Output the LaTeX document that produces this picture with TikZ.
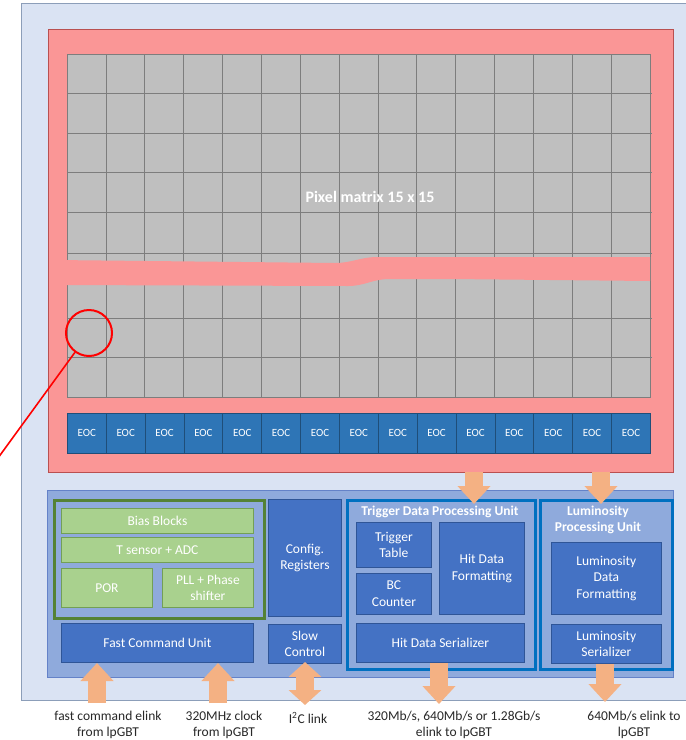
\documentclass[tikz,border=0pt]{standalone}
\usepackage{fontspec}
\setmainfont{Carlito}
\usetikzlibrary{arrows.meta}
\definecolor{bgblue}{RGB}{218,227,243}
\definecolor{bgedge}{RGB}{140,158,185}
\definecolor{redfill}{RGB}{250,150,150}
\definecolor{rededge}{RGB}{185,80,80}
\definecolor{cellgray}{RGB}{191,191,191}
\definecolor{cellline}{RGB}{125,125,125}
\definecolor{eocblue}{RGB}{46,117,182}
\definecolor{eocedge}{RGB}{31,78,121}
\definecolor{panelblue}{RGB}{143,170,220}
\definecolor{paneledge}{RGB}{100,130,200}
\definecolor{boxblue}{RGB}{68,114,196}
\definecolor{boxedge}{RGB}{47,85,151}
\definecolor{unitedge}{RGB}{0,112,192}
\definecolor{grpgreen}{RGB}{84,130,53}
\definecolor{boxgreen}{RGB}{169,209,142}
\definecolor{greenedge}{RGB}{115,160,85}
\definecolor{arroworange}{RGB}{244,177,131}
\definecolor{labeltext}{RGB}{40,40,40}
\newcommand{\bx}[7]{\node[#2, anchor=north west, minimum width={#5pt-#3pt}, minimum height={#6pt-#4pt}] (#1) at (#3,#4) {#7};}
\begin{document}
\begin{tikzpicture}[x=1pt, y=-1pt,
  every node/.style={inner sep=1pt},
  txt/.style={font=\fontsize{13.5}{16.5}\selectfont, text=white, align=center},
  ttl/.style={font=\bfseries\fontsize{13.5}{16.5}\selectfont, text=white, align=center},
  bluebox/.style={txt, draw=boxedge, fill=boxblue, line width=0.8pt},
  greenbox/.style={txt, draw=greenedge, fill=boxgreen, line width=0.8pt},
  eocbox/.style={draw=eocedge, fill=eocblue, line width=0.8pt, text=white, font=\fontsize{11}{13}\selectfont},
  unitbox/.style={draw=unitedge, fill=panelblue, line width=2.5pt},
  grpbox/.style={draw=grpgreen, fill=panelblue, line width=2.5pt},
  panelbox/.style={draw=paneledge, fill=panelblue, line width=0.8pt},
  chipbox/.style={draw=rededge, fill=redfill, line width=0.8pt},
  oarr/.style={draw=arroworange, line width=18pt, -{Triangle[width=32pt,length=18pt]}},
  oarrd/.style={draw=arroworange, line width=18pt, {Triangle[width=32pt,length=15pt]}-{Triangle[width=32pt,length=15pt]}},
  lbl/.style={font=\fontsize{13.5}{15.5}\selectfont, text=labeltext, align=center}
]
\useasboundingbox (0,0) rectangle (686,740);
% background
\fill[white] (0,0) rectangle (686,740);
\draw[bgedge, fill=bgblue, line width=0.8pt] (21,3) rectangle (692,700);

% chip / pixel matrix
\bx{chip}{chipbox}{48}{29}{673}{472}{}
\fill[cellgray] (67,54) rectangle (650,397);
\foreach \i in {1,...,14} \draw[cellline, line width=0.7pt] ({67+\i*38.867},54) -- ({67+\i*38.867},397);
\foreach \y in {93.6,133.2,172.8,212.4,253,318,357.6} \draw[cellline, line width=0.7pt] (67,\y) -- (652,\y);
\draw[cellline, line width=0.7pt] (67,54) rectangle (650,397);
\fill[redfill] (55,260) -- (335,263) .. controls (352,263) and (360,257) .. (378,257) -- (650,257) -- (650,281) -- (450,279) -- (390,279) .. controls (372,279) and (365,286) .. (348,286) -- (55,285) -- cycle;
\node[font=\bfseries\fontsize{16}{19}\selectfont, text=white] (pmlabel) at (370,197) {Pixel matrix 15 x 15};

% EOC row
\foreach \i in {0,...,14} \node[eocbox, anchor=north west, minimum width=38.867pt, minimum height=40pt] (eoc\i) at ({67+\i*38.867},413) {EOC};

% magnifier
\node[circle, draw=red, line width=2pt, minimum size=46pt, inner sep=0pt] (mag) at (89,333) {};
\coordinate (magend) at (-2,458);
\draw[red, line width=1.6pt] (mag) -- (magend);

% periphery panel
\bx{panel}{panelbox}{47}{490}{673}{677}{}
\bx{grp}{grpbox}{53}{499}{263}{617}{}
\bx{bias}{greenbox}{61}{508}{253}{533}{Bias Blocks}
\bx{tsens}{greenbox}{61}{537}{253}{562}{T sensor + ADC}
\bx{por}{greenbox}{61}{568}{152}{607}{POR}
\bx{pll}{greenbox}{162}{568}{253}{607}{PLL + Phase\\shifter}
\bx{fcu}{bluebox}{61}{623}{253}{662}{Fast Command Unit}
\bx{cfg}{bluebox}{268}{499}{341}{616}{Config.\\Registers}
\bx{slow}{bluebox}{268}{624}{341}{663}{Slow\\Control}

\bx{tdpu}{unitbox}{346}{499}{534}{668}{}
\node[ttl] (tdputitle) at (440,512) {Trigger Data Processing Unit};
\bx{ttab}{bluebox}{356}{522}{431}{567}{Trigger\\Table}
\bx{bcc}{bluebox}{356}{573}{431}{614}{BC\\Counter}
\bx{hdf}{bluebox}{439}{522}{524}{614}{Hit Data\\Formatting}
\bx{hds}{bluebox}{356}{623}{524}{662}{Hit Data Serializer}

\bx{lpu}{unitbox}{539}{499}{671}{668}{}
\node[ttl] (lputitle) at (598,520) {Luminosity\\Processing Unit};
\bx{ldf}{bluebox}{551}{542}{661}{614}{Luminosity\\Data\\Formatting}
\bx{lser}{bluebox}{551}{624}{661}{663}{Luminosity\\Serializer}

% orange block arrows
\coordinate (a1s) at (474,472); \coordinate (a1e) at (474,504);
\coordinate (a2s) at (601,472); \coordinate (a2e) at (601,504);
\draw[oarr] (a1s) -- (a1e);
\draw[oarr] (a2s) -- (a2e);
\coordinate (b1s) at (97,703); \coordinate (b1e) at (97,663);
\coordinate (b2s) at (218,703); \coordinate (b2e) at (218,663);
\coordinate (b3s) at (305,705); \coordinate (b3e) at (305,662);
\coordinate (b4e) at (439,704);
\coordinate (b5e) at (605,702);
\draw[oarr] (b1s) -- (b1e);
\draw[oarr] (b2s) -- (b2e);
\draw[oarrd] (b3s) -- (b3e);
\draw[oarr] (hds.south -| b4e) -- (b4e);
\draw[oarr] (lser.south -| b5e) -- (b5e);

% labels
\node[lbl] (l1) at (108,725) {fast command elink\\from lpGBT};
\node[lbl] (l2) at (224,725) {320MHz clock\\from lpGBT};
\node[lbl] (l3) at (308,718) {I\textsuperscript{2}C link};
\node[lbl] (l4) at (454,725) {320Mb/s, 640Mb/s or 1.28Gb/s\\elink to lpGBT};
\node[lbl] (l5) at (634,725) {640Mb/s elink to\\lpGBT};
\end{tikzpicture}
\end{document}
